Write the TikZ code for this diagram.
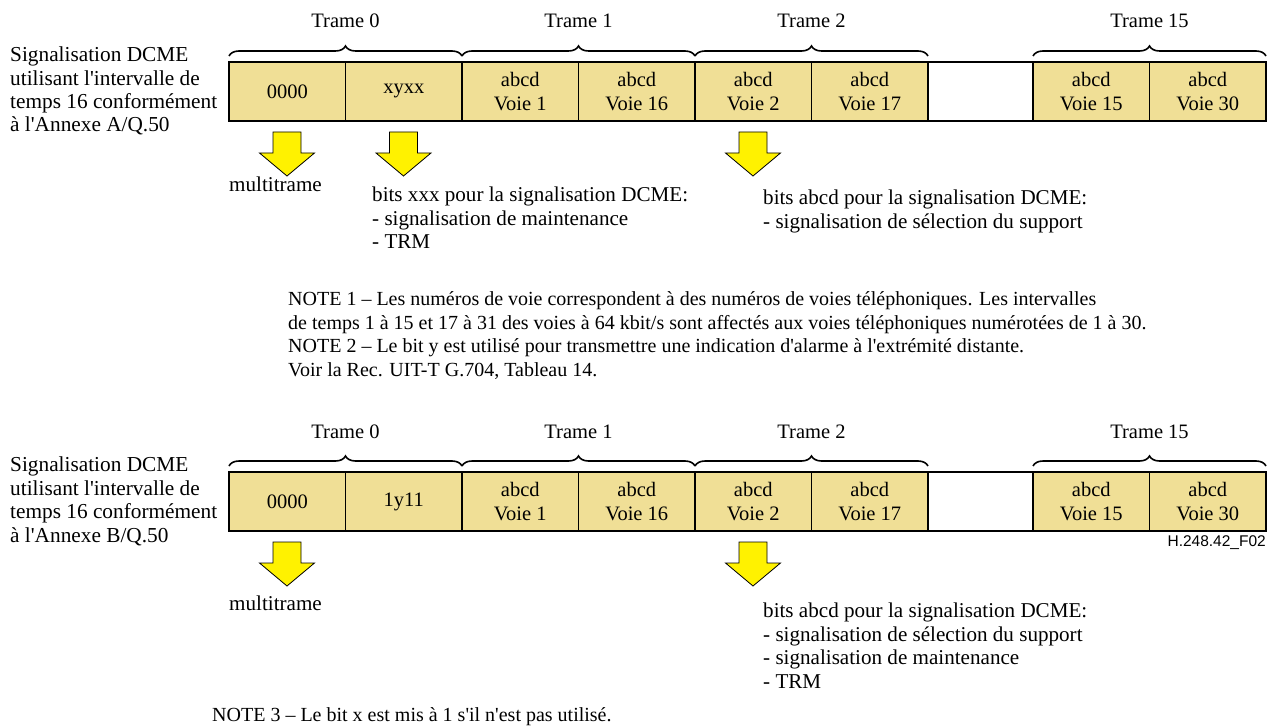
\documentclass[tikz,border=0pt]{standalone}
\usepackage{fontspec}
\setmainfont{Liberation Serif}[Ligatures=TeXOff]
\setsansfont{Liberation Sans}
\usetikzlibrary{positioning,decorations.pathreplacing}

\definecolor{cellfill}{RGB}{240,223,150}
\definecolor{arrowyellow}{RGB}{255,242,0}

\tikzset{
  cell/.style={draw, line width=1.2pt, fill=cellfill, minimum width=116.5pt,
    minimum height=59pt, inner sep=0pt, outer sep=0pt, align=center},
  blank/.style={cell, fill=white, minimum width=105pt},
  frame brace/.style={decorate, decoration={brace, amplitude=10pt, raise=6pt},
    line width=1.6pt},
  trame/.style={midway, anchor=base, yshift=34pt},
  txt/.style={anchor=base west, inner sep=0pt, align=left,
    font=\fontsize{21.1}{23.4}\selectfont},
  caption/.style={txt, font=\fontsize{21.3}{23.4}\selectfont},
  note/.style={txt, font=\fontsize{20}{23.4}\selectfont},
  down arrow/.pic={
    \draw[line width=0.8pt, fill=arrowyellow] (-14,0) -- (14,0) -- (14,21)
      -- (27.5,21) -- (0,44) -- (-27.5,21) -- (-14,21) -- cycle;
  }
}

\begin{document}
\begin{tikzpicture}[x=1pt, y=-1pt,
  every node/.append style={font=\fontsize{20.5}{23.3}\selectfont}]

\useasboundingbox (0,0) rectangle (1271,727);

% Annex A: time slot 16 cells
\node[cell, anchor=north west] (a0) at (229,62) {0000};
\node[cell, right=0pt of a0] (a1) {xyxx};
\node[cell, right=0pt of a1] (a2) {abcd\\Voie 1};
\node[cell, right=0pt of a2] (a3) {abcd\\Voie 16};
\node[cell, right=0pt of a3] (a4) {abcd\\Voie 2};
\node[cell, right=0pt of a4] (a5) {abcd\\Voie 17};
\node[blank, right=0pt of a5] (a6) {};
\node[cell, right=0pt of a6] (a7) {abcd\\Voie 15};
\node[cell, right=0pt of a7] (a8) {abcd\\Voie 30};

% Frames over the cells
\draw[frame brace] (a0.north west) -- node[trame] (ta0) {Trame 0} (a1.north east);
\draw[frame brace] (a2.north west) -- node[trame] (ta1) {Trame 1} (a3.north east);
\draw[frame brace] (a4.north west) -- node[trame] (ta2) {Trame 2} (a5.north east);
\draw[frame brace] (a7.north west) -- node[trame] (ta15) {Trame 15} (a8.north east);

% Left caption and notes (base = last line)
\node[caption] (capa) at (10,132) {Signalisation DCME\\utilisant l'intervalle de\\temps 16 conformément\\à l'Annexe A/Q.50};
\pic (arra0) at (287,132) {down arrow};
\pic (arra1) at (403.5,132) {down arrow};
\pic (arra4) at (753,132) {down arrow};
\node[txt] (multia) at (229,192) {multitrame};
\node[txt] (xxxa) at (372,248.6) {bits xxx pour la signalisation DCME:\\- signalisation de maintenance\\- TRM};
\node[txt] (abcda) at (763,228.3) {bits abcd pour la signalisation DCME:\\- signalisation de sélection du support};
\node[note] (notea) at (288,376) {NOTE 1 – Les numéros de voie correspondent à des numéros de voies téléphoniques. Les intervalles\\de temps 1 à 15 et 17 à 31 des voies à 64 kbit/s sont affectés aux voies téléphoniques numérotées de 1 à 30.\\NOTE 2 – Le bit y est utilisé pour transmettre une indication d'alarme à l'extrémité distante.\\Voir la Rec. UIT-T G.704, Tableau 14.};

% Annex B: time slot 16 cells
\node[cell, anchor=north west] (b0) at (229,472) {0000};
\node[cell, right=0pt of b0] (b1) {1y11};
\node[cell, right=0pt of b1] (b2) {abcd\\Voie 1};
\node[cell, right=0pt of b2] (b3) {abcd\\Voie 16};
\node[cell, right=0pt of b3] (b4) {abcd\\Voie 2};
\node[cell, right=0pt of b4] (b5) {abcd\\Voie 17};
\node[blank, right=0pt of b5] (b6) {};
\node[cell, right=0pt of b6] (b7) {abcd\\Voie 15};
\node[cell, right=0pt of b7] (b8) {abcd\\Voie 30};

% Frames over the cells
\draw[frame brace] (b0.north west) -- node[trame] (tb0) {Trame 0} (b1.north east);
\draw[frame brace] (b2.north west) -- node[trame] (tb1) {Trame 1} (b3.north east);
\draw[frame brace] (b4.north west) -- node[trame] (tb2) {Trame 2} (b5.north east);
\draw[frame brace] (b7.north west) -- node[trame] (tb15) {Trame 15} (b8.north east);

% Left caption and notes (base = last line)
\node[caption] (capb) at (10,542) {Signalisation DCME\\utilisant l'intervalle de\\temps 16 conformément\\à l'Annexe B/Q.50};
\node[anchor=base east, inner sep=0pt, font=\sffamily\fontsize{15.5}{18}\selectfont] (figid) at (1266,546) {H.248.42\_F02};
\pic (arrb0) at (287,542) {down arrow};
\pic (arrb4) at (753,542) {down arrow};
\node[txt] (multib) at (229,610) {multitrame};
\node[txt] (abcdb) at (763,688) {bits abcd pour la signalisation DCME:\\- signalisation de sélection du support\\- signalisation de maintenance\\- TRM};
\node[note] (noteb) at (212,721) {NOTE 3 – Le bit x est mis à 1 s'il n'est pas utilisé.};

\end{tikzpicture}
\end{document}
